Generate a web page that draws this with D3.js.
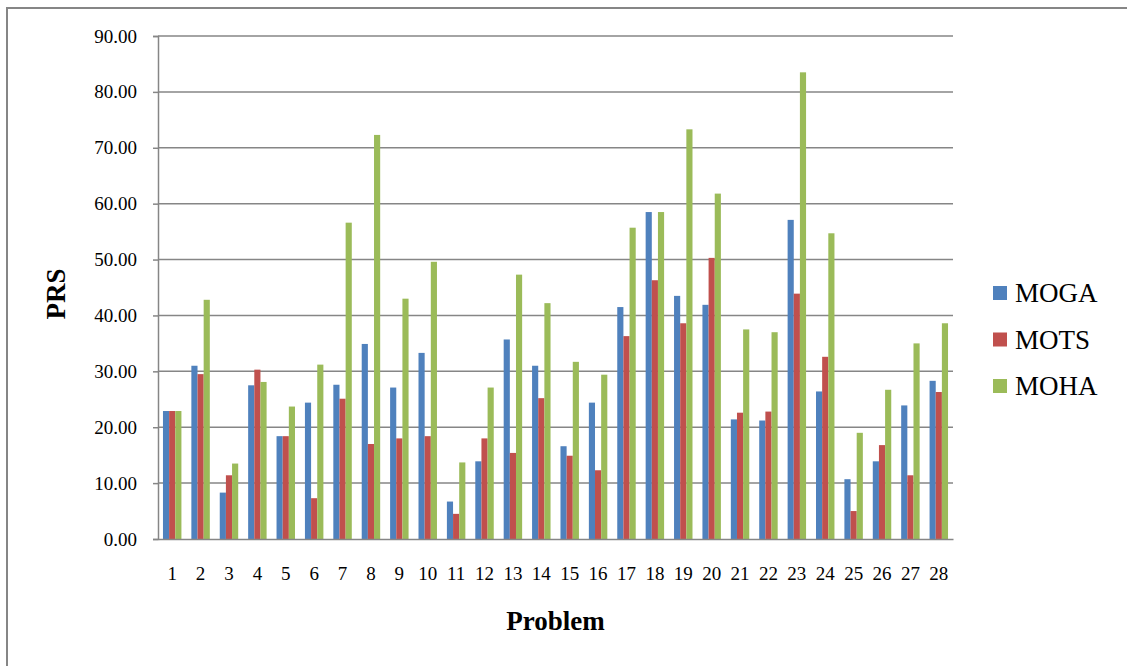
<!DOCTYPE html>
<html lang="en">
<head>
<meta charset="utf-8">
<script src="https://d3js.org/d3.v7.min.js"></script>
<style>
  body { margin: 0; background: #fff; }
  svg { display: block; font-family: "Liberation Serif", "Times New Roman", serif; }
</style>
</head>
<body>
<svg id="chart" width="1127" height="666"></svg>
<script>
// problem numbers 1..28
var problems = d3.range(1, 29).map(String);
var seriesNames = ['MOGA', 'MOTS', 'MOHA'];
var seriesColors = ['#4F81BD', '#C0504D', '#9BBB59'];

var moga = [22.9, 31.0, 8.3, 27.5, 18.4, 24.4, 27.6, 34.9, 27.1, 33.3,
            6.7, 13.9, 35.7, 31.0, 16.6, 24.4, 41.5, 58.5, 43.5, 41.9,
            21.4, 21.2, 57.1, 26.4, 10.7, 13.9, 23.9, 28.3];
var mots = [22.9, 29.5, 11.4, 30.3, 18.4, 7.3, 25.1, 17.0, 18.0, 18.4,
            4.5, 18.0, 15.4, 25.2, 14.9, 12.3, 36.3, 46.3, 38.6, 50.3,
            22.6, 22.8, 43.9, 32.6, 5.0, 16.8, 11.4, 26.3];
var moha = [22.9, 42.8, 13.5, 28.1, 23.7, 31.2, 56.6, 72.3, 43.0, 49.6,
            13.7, 27.1, 47.3, 42.2, 31.7, 29.4, 55.7, 58.5, 73.3, 61.8,
            37.5, 37.0, 83.5, 54.7, 19.0, 26.7, 35.0, 38.6];
var yTicks = [0, 10, 20, 30, 40, 50, 60, 70, 80, 90];

var svgEl = d3.select('#chart');
var grey = '#868686';
var serif = '"Liberation Serif", "Times New Roman", serif';

// outer chart frame (cut off at right and bottom like the original)
svgEl.append('rect')
  .attr('x', 7).attr('y', 8)
  .attr('width', 1200).attr('height', 700)
  .attr('fill', 'none')
  .attr('stroke', grey)
  .attr('stroke-width', 2);

var margin = {left: 158, top: 36, right: 953, bottom: 539};

var x = d3.scaleBand()
  .domain(problems)
  .range([margin.left, margin.right])
  .paddingInner(0.35)
  .paddingOuter(0.175);

var xs = d3.scaleBand()
  .domain(seriesNames)
  .range([0, x.bandwidth()]);

var y = d3.scaleLinear()
  .domain([0, 90])
  .range([margin.bottom, margin.top]);

// gridlines + y axis
var yAxis = d3.axisLeft(y)
  .tickValues(yTicks)
  .tickFormat(d3.format('.2f'))
  .tickSize(5)
  .tickPadding(16);

var gy = svgEl.append('g')
  .attr('transform', 'translate(' + margin.left + ',0)')
  .call(yAxis)
  .attr('font-family', serif)
  .attr('font-size', 19);
gy.select('.domain').attr('stroke', grey).attr('stroke-width', 1.5);
gy.selectAll('.tick line').attr('stroke', grey).attr('stroke-width', 1.5);
gy.selectAll('.tick text').attr('fill', '#000');

svgEl.append('g')
  .selectAll('line')
  .data(yTicks.filter(d => d > 0))
  .join('line')
  .attr('x1', margin.left).attr('x2', margin.right)
  .attr('y1', d => y(d)).attr('y2', d => y(d))
  .attr('stroke', grey)
  .attr('stroke-width', 1.5);

// bars
var rows = problems.map((p, i) => ({p: p, vals: [moga[i], mots[i], moha[i]]}));

svgEl.append('g')
  .selectAll('g')
  .data(rows)
  .join('g')
  .attr('transform', d => 'translate(' + x(d.p) + ',0)')
  .selectAll('rect')
  .data(d => d.vals.map((v, k) => ({name: seriesNames[k], v: v, c: seriesColors[k]})))
  .join('rect')
  .attr('x', d => xs(d.name))
  .attr('width', xs.bandwidth())
  .attr('y', d => y(d.v))
  .attr('height', d => y(0) - y(d.v))
  .attr('fill', d => d.c);

// x axis
var xAxis = d3.axisBottom(x).tickSize(0).tickPadding(28);
var gx = svgEl.append('g')
  .attr('transform', 'translate(0,' + margin.bottom + ')')
  .call(xAxis)
  .attr('font-family', serif)
  .attr('font-size', 19);
gx.select('.domain').attr('stroke', grey).attr('stroke-width', 1.5);
gx.selectAll('.tick text').attr('fill', '#000');

// axis titles
svgEl.append('text')
  .attr('x', (margin.left + margin.right) / 2)
  .attr('y', 630)
  .attr('text-anchor', 'middle')
  .style('font-size', '27px')
  .style('font-weight', 'bold')
  .text('Problem');

svgEl.append('text')
  .attr('transform', 'translate(65,294) rotate(-90)')
  .attr('text-anchor', 'middle')
  .style('font-size', '27px')
  .style('font-weight', 'bold')
  .text('PRS');

// legend
var legend = svgEl.append('g')
  .selectAll('g')
  .data(seriesNames)
  .join('g')
  .attr('transform', (d, i) => 'translate(993,' + (286 + i * 46.5) + ')');

legend.append('rect')
  .attr('width', 14).attr('height', 14)
  .attr('fill', (d, i) => seriesColors[i]);

legend.append('text')
  .attr('x', 22).attr('y', 16)
  .style('font-size', '27px')
  .text(d => d);
</script>
</body>
</html>
